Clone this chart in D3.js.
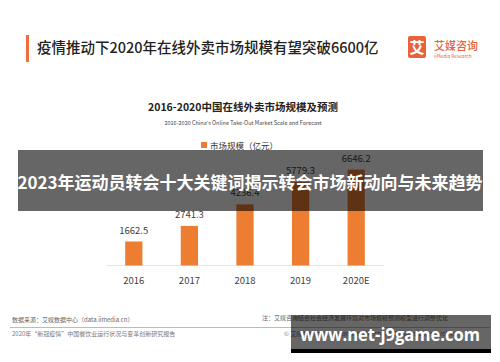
<!DOCTYPE html>
<html><head><meta charset="utf-8">
<script src="https://cdn.jsdelivr.net/npm/d3@7"></script>
<style>body{margin:0;background:#fff}svg{display:block;font-family:"Noto Sans CJK SC","Noto Sans",sans-serif}</style>
</head><body>
<svg id="c" width="500" height="362"></svg>
<script>
const categories = ["2016","2017","2018","2019","2020E"];
const values = [1662.5, 2741.3, 4236.4, 5779.3, 6646.2];
const valueLabels = ["1662.5","2741.3","4236.4","5779.3","6646.2"];
const seriesName = "市场规模（亿元）";

const svg = d3.select("#c");
const orange = "#ED7D31";

// header
svg.append("rect").attr("x",26).attr("y",35).attr("width",3).attr("height",27).attr("fill","#F26B3A");
svg.append("text").attr("x",37).attr("y",53).attr("font-size",14.5).attr("font-weight",500).attr("fill","#222")
  .text("疫情推动下2020年在线外卖市场规模有望突破6600亿");
svg.append("rect").attr("x",408).attr("y",36).attr("width",18).attr("height",22).attr("rx",2).attr("fill","#E8633A");
svg.append("text").attr("x",417).attr("y",53).attr("text-anchor","middle").attr("font-size",15).attr("font-weight",700).attr("fill","#fff").text("艾");
svg.append("text").attr("x",434).attr("y",50).attr("font-size",11).attr("font-weight",500).attr("fill","#E8633A").text("艾媒咨询");
svg.append("text").attr("x",434).attr("y",58).attr("font-size",4.8).attr("fill","#E8633A").text("iiMedia Research");

// chart titles
svg.append("text").attr("x",243).attr("y",111).attr("text-anchor","middle").attr("font-size",10.5).attr("font-weight",700).attr("fill","#222")
  .text("2016-2020中国在线外卖市场规模及预测");
svg.append("text").attr("x",243).attr("y",125).attr("text-anchor","middle").attr("font-size",5.5).attr("fill","#444")
  .text("2016-2020 China's Online Take-Out Market Scale and Forecast");

// legend
svg.append("rect").attr("x",201).attr("y",142).attr("width",6).attr("height",6).attr("fill",orange);
svg.append("text").attr("x",210).attr("y",148.5).attr("font-size",8.5).attr("fill","#333").text(seriesName);

// scales
const x = d3.scaleBand().domain(categories).range([106,384]).paddingInner(0.69).paddingOuter(0.345);
const y = d3.scaleLinear().domain([0,7000]).range([265.5,164.5]);

svg.append("line").attr("x1",106).attr("x2",384).attr("y1",265.5).attr("y2",265.5).attr("stroke","#e6e6e6").attr("stroke-width",1);

svg.selectAll("rect.bar").data(values).join("rect").attr("class","bar")
  .attr("x",(d,i)=>x(categories[i])).attr("width",x.bandwidth())
  .attr("y",d=>y(d)).attr("height",d=>y(0)-y(d)).attr("fill",orange);

svg.selectAll("text.val").data(values).join("text").attr("class","val")
  .attr("x",(d,i)=>x(categories[i])+x.bandwidth()/2).attr("y",d=>y(d)-8)
  .attr("text-anchor","middle").attr("font-size",9.5).attr("fill","#404040")
  .text((d,i)=>valueLabels[i]);

const xAxis = svg.append("g").attr("transform","translate(0,265.5)")
  .call(d3.axisBottom(x).tickSize(0).tickPadding(12));
xAxis.select(".domain").remove();
xAxis.selectAll("text").attr("font-size",9.5).attr("fill","#404040").attr("font-family","Noto Sans CJK SC");

// footer
svg.append("text").attr("x",12).attr("y",322).attr("font-size",6).attr("fill","#666").text("数据来源：艾媒数据中心（data.iimedia.cn）");
svg.append("text").attr("x",262).attr("y",320).attr("font-size",6).attr("fill","#666").text("注：艾媒咨询结合社会经济发展环境对市场规模预测模型进行调整优化");
svg.append("line").attr("x1",10).attr("x2",490).attr("y1",327.5).attr("y2",327.5).attr("stroke","#aaa").attr("stroke-width",0.8);
svg.append("text").attr("x",12).attr("y",336).attr("font-size",6).attr("fill","#777").text("2020年“新冠疫情”中国餐饮业运行状况与变革创新研究报告");
svg.append("text").attr("x",284).attr("y",336).attr("font-size",6).attr("fill","#777").text("© 艾媒报告中心：report.iimedia.cn ©2020 iiMedia Research Inc");

// overlay banner
svg.append("rect").attr("x",18).attr("y",150).attr("width",465).attr("height",61).attr("fill","#000").attr("opacity",0.6);
svg.append("text").attr("x",250).attr("y",189).attr("text-anchor","middle").attr("font-size",17).attr("font-weight",700).attr("fill","#fff")
  .text("2023年运动员转会十大关键词揭示转会市场新动向与未来趋势");

// watermark
svg.append("rect").attr("x",291).attr("y",315).attr("width",200).attr("height",38).attr("fill","#000").attr("opacity",0.6);
svg.append("rect").attr("x",291).attr("y",349).attr("width",200).attr("height",4).attr("fill","#000");
svg.append("text").attr("x",300).attr("y",341).attr("font-size",18).attr("font-weight",700).attr("fill","#fff")
  .attr("font-family","Open Sans").attr("textLength",180).attr("lengthAdjust","spacingAndGlyphs").text("www.net-j9game.com");
</script>
</body></html>
